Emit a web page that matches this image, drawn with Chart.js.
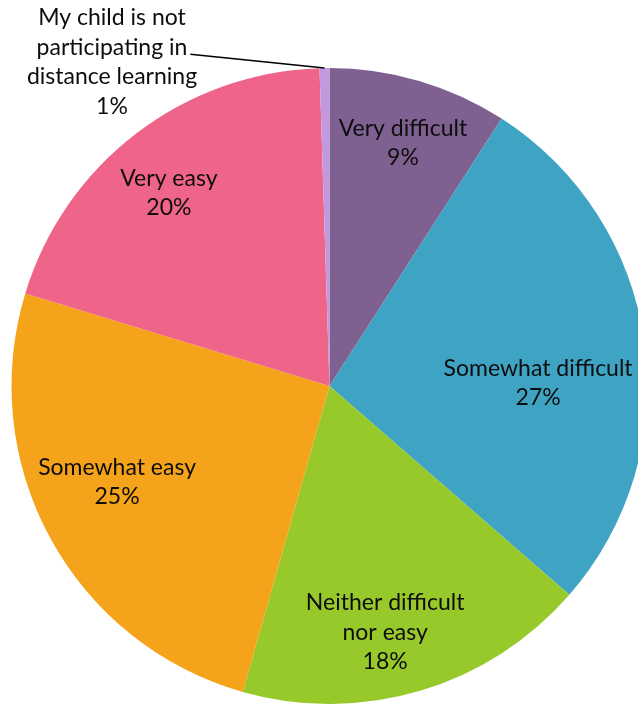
<!DOCTYPE html>
<html>
<head>
<meta charset="utf-8">
<script src="https://cdn.jsdelivr.net/npm/chart.js@4/dist/chart.umd.min.js"></script>
<style>
  html, body { margin: 0; padding: 0; background: #fff; }
  #wrap { width: 638px; height: 704px; overflow: hidden; position: relative; }
  #wrap canvas { position: absolute; left: 0; top: 0; }
</style>
</head>
<body>
<div id="wrap"><canvas id="pie" width="660" height="704"></canvas></div>
<script>
// answers, clockwise from the top
const categories = [
    'Very difficult',
    'Somewhat difficult',
    'Neither difficult nor easy',
    'Somewhat easy',
    'Very easy',
    'My child is not participating in distance learning'
];
// label text as it is broken into lines in the picture
const labelLines = [
    ['Very difficult'],
    ['Somewhat difficult'],
    ['Neither difficult', 'nor easy'],
    ['Somewhat easy'],
    ['Very easy'],
    ['My child is not', 'participating in', 'distance learning']
];
const shares = [9.1, 27.3, 18.0, 25.3, 19.8, 0.5];
const sliceColors = ['#7F6191', '#3FA3C3', '#97C92A', '#F5A31B', '#EF6589', '#C299DE'];

// where each label sits, as a fraction of the radius from the pie centre
const labelOffsets = [
    [0.231, -0.764],
    [0.656, -0.009],
    [0.175, 0.774],
    [-0.668, 0.302],
    [-0.505, -0.607],
    [-0.684, -1.019]
];
const lineHeight = 29.5;
const labelFont = '23px Lato, "Open Sans", sans-serif';

const pieLabels = {
    id: 'pieLabels',
    afterDraw(chart) {
        const ctx = chart.ctx;
        const meta = chart.getDatasetMeta(0);
        const total = shares.reduce((a, b) => a + b, 0);
        ctx.save();
        ctx.font = labelFont;
        ctx.fillStyle = '#0d0d0d';
        ctx.textAlign = 'center';
        ctx.textBaseline = 'middle';
        meta.data.forEach((arc, i) => {
            const R = arc.outerRadius;
            const lx = arc.x + labelOffsets[i][0] * R;
            const ly = arc.y + labelOffsets[i][1] * R;
            const pct = Math.round(shares[i] / total * 100) + '%';
            const lines = labelLines[i].concat([pct]);
            const top = ly - (lines.length - 1) * lineHeight / 2;
            lines.forEach((t, k) => ctx.fillText(t, lx, top + k * lineHeight));

            // leader line for the label that sits outside the pie
            if (labelOffsets[i][1] < -1) {
                const mid = (arc.startAngle + arc.endAngle) / 2;
                const w = ctx.measureText(lines[1]).width;
                ctx.beginPath();
                ctx.strokeStyle = '#000';
                ctx.lineWidth = 1.6;
                ctx.moveTo(lx + w / 2 + 3, top + lineHeight + 7);
                ctx.lineTo(arc.x + Math.cos(mid) * R, arc.y + Math.sin(mid) * R);
                ctx.stroke();
            }
        });
        ctx.restore();
    }
};

new Chart(document.getElementById('pie'), {
    type: 'pie',
    data: {
        labels: categories,
        datasets: [{
            data: shares,
            backgroundColor: sliceColors,
            borderWidth: 0
        }]
    },
    options: {
        responsive: false,
        animation: false,
        layout: { padding: { top: 68, left: 11.5, right: 12.5, bottom: 0 } },
        plugins: {
            legend: { display: false },
            tooltip: { enabled: false }
        }
    },
    plugins: [pieLabels]
});
</script>
</body>
</html>
